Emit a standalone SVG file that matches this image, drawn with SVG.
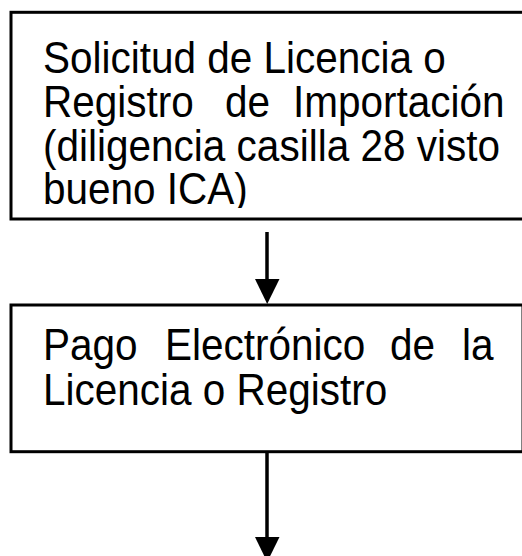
<svg xmlns="http://www.w3.org/2000/svg" width="522" height="556" viewBox="0 0 522 556">
<style>
.box{fill:#fff;stroke:#000;stroke-width:3}
.t{font-family:"Liberation Sans",Arial,sans-serif;font-size:40.5px;fill:#000}
.ln{stroke:#000;stroke-width:3.5;fill:none}
.hd{fill:#000}
</style>
<defs>
<clipPath id="c1"><rect x="12" y="13" width="520" height="195"/></clipPath>
</defs>
<rect width="522" height="556" fill="#fff"/>
<g id="node1">
<rect class="box" x="11" y="12.3" width="530" height="206.7"/>
<g clip-path="url(#c1)">
<text class="t" transform="translate(0 73) scale(1 1.1)" x="43" y="0">Solicitud de Licencia o</text>
<text class="t" transform="translate(0 117) scale(1 1.1)" y="0"><tspan x="43">Registro</tspan><tspan x="225">de</tspan><tspan x="293">Importación</tspan></text>
<text class="t" transform="translate(0 160.5) scale(1 1.1)" x="43" y="0" textLength="457" lengthAdjust="spacing">(diligencia casilla 28 visto</text>
<text class="t" transform="translate(0 204) scale(1 1.1)" x="43" y="0">bueno ICA)</text>
</g>
</g>
<g id="node2">
<rect class="box" x="11" y="305" width="512" height="146.7"/>
<text class="t" transform="translate(0 360) scale(1 1.1)" y="0"><tspan x="43">Pago</tspan><tspan x="165">Electrónico</tspan><tspan x="390">de</tspan><tspan x="462">la</tspan></text>
<text class="t" transform="translate(0 405) scale(1 1.1)" x="43" y="0">Licencia o Registro</text>
</g>
<g id="connectors">
<line class="ln" x1="267" y1="232" x2="267" y2="282"/>
<polygon class="hd" points="255,279 279.5,279 267.2,304"/>
<line class="ln" x1="267" y1="452" x2="267" y2="540"/>
<polygon class="hd" points="255,537 279.5,537 267.2,562"/>
</g>
</svg>
